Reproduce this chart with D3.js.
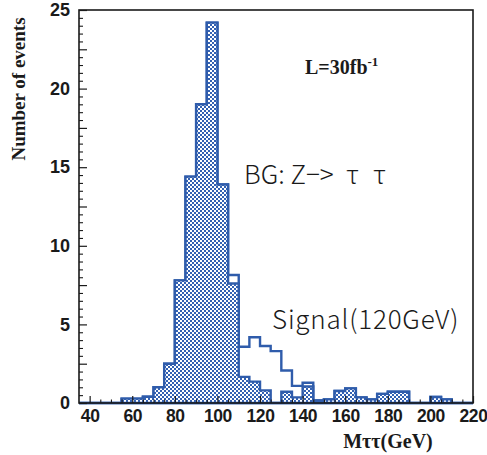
<!DOCTYPE html>
<html>
<head>
<meta charset="utf-8">
<script src="https://cdn.jsdelivr.net/npm/d3@7"></script>
<style>
  html, body { margin: 0; padding: 0; background: #fff; }
  svg { display: block; }
</style>
</head>
<body>
<script>
// Bin lower edges (GeV), 5 GeV wide
const binStarts = [35, 40, 45, 50, 55, 60, 65, 70, 75, 80, 85, 90, 95, 100, 105, 110, 115, 120,
  125, 130, 135, 140, 145, 150, 155, 160, 165, 170, 175, 180, 185, 190, 195, 200, 205, 210, 215];
const binWidth = 5;

// Z -> tau tau background, events per bin
const bgCounts = [0, 0, 0, 0, 0.28, 0.28, 0.4, 1.0, 2.5, 7.8, 14.4, 19.0, 24.2, 13.9, 7.6, 1.66, 1.36, 0.8,
  0, 0.72, 0.36, 1.05, 0.16, 0.23, 0.76, 0.93, 0.36, 0.23, 0.58, 0.72, 0.72, 0, 0, 0.38, 0.23, 0, 0];

// Higgs (120 GeV) signal, stacked on the background
const signalCounts = [0, 0, 0, 0, 0, 0, 0, 0, 0, 0, 0, 0, 0, 0, 0.54, 1.92, 2.82, 2.83,
  3.3, 1.35, 0.73, 0.24, 0, 0, 0, 0, 0, 0, 0, 0, 0, 0, 0, 0, 0, 0, 0];

const xMajorTicks = [40, 60, 80, 100, 120, 140, 160, 180, 200, 220];
const yMajorTicks = [0, 5, 10, 15, 20, 25];

const W = 487, H = 455;
const m = { left: 79, right: 473, top: 10, bottom: 403 };
const blue = "#2f5cab";
const ink = "#1a1a1a";
const serif = "'Liberation Serif', 'Times New Roman', serif";
const gothic = "'Noto Sans CJK JP', 'Noto Sans', sans-serif";

const svg = d3.select("body").append("svg")
  .attr("width", W).attr("height", H)
  .attr("font-family", "'Liberation Sans', Arial, sans-serif");

const x = d3.scaleLinear().domain([35, 220]).range([m.left, m.right]);
const y = d3.scaleLinear().domain([0, 25]).range([m.bottom, m.top]);

// checkered hatch used for the background fill
const defs = svg.append("defs");
const pat = defs.append("pattern").attr("id", "checker")
  .attr("patternUnits", "userSpaceOnUse").attr("width", 4).attr("height", 4);
pat.append("rect").attr("width", 4).attr("height", 4).attr("fill", "#ffffff");
pat.append("rect").attr("x", 2).attr("y", 0).attr("width", 2).attr("height", 2).attr("fill", "#3361b2");
pat.append("rect").attr("x", 0).attr("y", 2).attr("width", 2).attr("height", 2).attr("fill", "#3361b2");

// step outline of a histogram, closed along zero
function stepPath(vals) {
  const p = d3.path();
  p.moveTo(x(binStarts[0]), y(0));
  vals.forEach((v, i) => {
    p.lineTo(x(binStarts[i]), y(v));
    p.lineTo(x(binStarts[i] + binWidth), y(v));
  });
  p.lineTo(x(binStarts[binStarts.length - 1] + binWidth), y(0));
  p.closePath();
  return p.toString();
}

const totalCounts = bgCounts.map((b, i) => b + signalCounts[i]);

const plot = svg.append("g");
plot.append("path")
  .attr("d", stepPath(totalCounts))
  .attr("fill", "#fff").attr("stroke", blue).attr("stroke-width", 2.4)
  .attr("stroke-linejoin", "miter");
plot.append("path")
  .attr("d", stepPath(bgCounts))
  .attr("fill", "url(#checker)").attr("stroke", blue).attr("stroke-width", 2.4)
  .attr("stroke-linejoin", "miter");

// frame
svg.append("rect")
  .attr("x", m.left).attr("y", m.top).attr("width", m.right - m.left).attr("height", m.bottom - m.top)
  .attr("fill", "none").attr("stroke", ink).attr("stroke-width", 1.6);

// y axis: labelled ticks, intermediate ticks, small ticks
const yAxis = svg.append("g").attr("transform", `translate(${m.left},0)`)
  .call(d3.axisLeft(y).tickValues(yMajorTicks).tickSize(-8).tickPadding(9).tickFormat(d3.format("d")));
yAxis.select(".domain").remove();
yAxis.selectAll("line").attr("stroke", ink).attr("stroke-width", 1.2);
yAxis.selectAll("text").attr("font-size", 18).attr("font-weight", "bold").attr("fill", ink);

const yMid = svg.append("g").attr("transform", `translate(${m.left},0)`)
  .call(d3.axisLeft(y).tickValues(d3.range(2.5, 25, 5)).tickSize(-8).tickFormat(""));
yMid.select(".domain").remove();
yMid.selectAll("line").attr("stroke", ink).attr("stroke-width", 1.2);

const yMinor = svg.append("g").attr("transform", `translate(${m.left},0)`)
  .call(d3.axisLeft(y).tickValues(d3.range(0.5, 25, 0.5).filter(v => v % 2.5 !== 0)).tickSize(-4).tickFormat(""));
yMinor.select(".domain").remove();
yMinor.selectAll("line").attr("stroke", ink).attr("stroke-width", 1.1);

// x axis
const xAxis = svg.append("g").attr("transform", `translate(0,${m.bottom})`)
  .call(d3.axisBottom(x).tickValues(xMajorTicks).tickSize(-7).tickPadding(7).tickFormat(d3.format("d")));
xAxis.select(".domain").remove();
xAxis.selectAll("line").attr("stroke", ink).attr("stroke-width", 1.2);
xAxis.selectAll("text").attr("font-size", 17.5).attr("font-weight", "bold")
  .attr("letter-spacing", -0.4).attr("fill", ink);

const xMinor = svg.append("g").attr("transform", `translate(0,${m.bottom})`)
  .call(d3.axisBottom(x).tickValues(d3.range(40, 220, 5).filter(v => v % 20 !== 0)).tickSize(-3.5).tickFormat(""));
xMinor.select(".domain").remove();
xMinor.selectAll("line").attr("stroke", ink).attr("stroke-width", 1.1);

// axis titles
svg.append("text")
  .attr("transform", "translate(25,89) rotate(-90)")
  .attr("text-anchor", "middle")
  .attr("font-family", serif)
  .attr("font-weight", "bold").attr("font-size", 19).attr("fill", ink)
  .text("Number of events");

svg.append("text")
  .attr("x", 388).attr("y", 448)
  .attr("text-anchor", "middle")
  .attr("font-family", serif)
  .attr("font-weight", "bold").attr("font-size", 20).attr("fill", ink)
  .text("Mττ(GeV)");

// luminosity
const lum = svg.append("text")
  .attr("x", 305).attr("y", 74)
  .attr("font-family", serif)
  .attr("font-weight", "bold").attr("font-size", 20).attr("fill", ink);
lum.append("tspan").text("L=30fb");
lum.append("tspan").attr("dy", -8).attr("font-size", 13).text("-1");

// process labels
const bgLabel = svg.append("text")
  .attr("x", 244).attr("y", 184)
  .attr("font-family", gothic)
  .attr("font-weight", 300).attr("font-size", 26).attr("fill", ink);
bgLabel.append("tspan").text("BG: Z−>");
bgLabel.append("tspan").attr("x", 346).text("τ");
bgLabel.append("tspan").attr("x", 373).text("τ");

svg.append("text")
  .attr("x", 272).attr("y", 329)
  .attr("font-family", gothic)
  .attr("font-weight", 300).attr("font-size", 26).attr("letter-spacing", 0.8).attr("fill", ink)
  .text("Signal(120GeV)");
</script>
</body>
</html>
